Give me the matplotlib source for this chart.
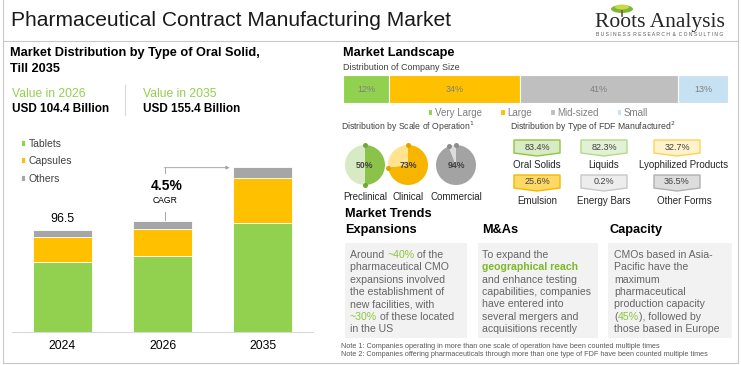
import numpy as np
import matplotlib
matplotlib.use('Agg')
import matplotlib.pyplot as plt
from matplotlib.patches import Polygon, Rectangle, Ellipse

plt.rcParams['font.family'] = ['Liberation Sans', 'DejaVu Sans']

W, H = 741, 365

# ---- data ----
years = ['2024', '2026', '2035']
tablets = [65.8, 71.2, 102.4]
capsules = [23.6, 25.7, 42.4]
others = [7.1, 7.5, 10.6]
value_2026 = 104.4
value_2035 = 155.4
cagr = 4.5

size_labels = ['Very Large', 'Large', 'Mid-sized', 'Small']
size_share = [12, 34, 41, 13]

scale_labels = ['Preclinical', 'Clinical', 'Commercial']
scale_share = [50, 73, 94]

fdf_labels = ['Oral Solids', 'Liquids', 'Lyophilized Products',
              'Emulsion', 'Energy Bars', 'Other Forms']
fdf_share = [83.4, 82.3, 32.7, 25.6, 0.2, 36.5]

GREEN = '#92D050'
YELLOW = '#FFC000'
GREY = '#A6A6A6'
TXT = '#666666'
LINE = '#C8C8C8'


def fx(x):
    return x / W


def fy(y):
    return 1 - y / H


fig = plt.figure(figsize=(W / 100, H / 100), dpi=100)
fig.patch.set_facecolor('white')

# full-figure overlay in pixel coordinates (y downwards)
bg = fig.add_axes([0, 0, 1, 1])
bg.set_xlim(0, W)
bg.set_ylim(H, 0)
bg.axis('off')

# frame lines
bg.plot([2.5, 2.5, 737.5, 737.5], [0, 362.5, 362.5, 0], color=LINE, lw=0.8)
bg.plot([2.5, 737.5], [40.5, 40.5], color=LINE, lw=0.8)

# title + logo
bg.text(11, 20, 'Pharmaceutical Contract Manufacturing Market', fontsize=15.1,
        va='center', color='#1a1a1a')
bg.add_patch(Ellipse((622, 9), 22, 8, fc='#7FB539', ec='none'))
bg.add_patch(Ellipse((622, 7), 14, 5, fc='#C9D94A', ec='none'))
bg.plot([622, 622], [11, 16], color='#6B5A3A', lw=1.2)
bg.text(660, 23, 'Roots Analysis', fontsize=15.5, family=['Liberation Serif'],
        ha='center', va='center', color='#262626')
bg.text(660, 34, '  '.join(' '.join(w) for w in 'BUSINESS RESEARCH & CONSULTING'.split()),
        fontsize=3.6, ha='center', va='center', color='#555555')

# ---- left panel ----
bg.text(10, 53, 'Market Distribution by Type of Oral Solid,', fontsize=9.2,
        fontweight='bold', va='center')
bg.text(10, 69, 'Till 2035', fontsize=9.2, fontweight='bold', va='center')
bg.text(12, 94, 'Value in 2026', fontsize=8.7, color=GREEN, va='center')
bg.text(12, 109, f'USD {value_2026} Billion', fontsize=8.5, fontweight='bold', va='center')
bg.plot([125, 125], [85, 115], color='#D9D9D9', lw=0.8)
bg.text(143, 94, 'Value in 2035', fontsize=8.7, color=GREEN, va='center')
bg.text(143, 109, f'USD {value_2035} Billion', fontsize=8.5, fontweight='bold', va='center')

axb = fig.add_axes([fx(12), fy(332), 301 / W, 191 / H])
x = np.arange(len(years))
bottom = np.zeros(len(years))
for vals, col, lab in [(tablets, GREEN, 'Tablets'), (capsules, YELLOW, 'Capsules'),
                       (others, GREY, 'Others')]:
    axb.bar(x, vals, 0.59, bottom=bottom, color=col, edgecolor='white', linewidth=0.6, label=lab)
    bottom += np.array(vals)
axb.set_xlim(-0.5, 2.5)
axb.set_ylim(0, 180)
axb.set_xticks(x, years, fontsize=8.7)
axb.set_yticks([])
axb.tick_params(length=0, pad=6)
for s in ['top', 'right', 'left']:
    axb.spines[s].set_visible(False)
axb.spines['bottom'].set_color('#D9D9D9')
axb.patch.set_visible(False)

axb.annotate(f'{bottom[0]:.1f}', (0, bottom[0]), xytext=(0, 7.5), textcoords='offset points',
             ha='center', va='center', fontsize=8.9)

t26, t35 = bottom[1], bottom[2]
conn = dict(color='#A6A6A6', lw=0.7, clip_on=False)
axb.plot([1.02, 1.02], [t26 + 1, t26 + 9], **conn)
axb.plot([1.02, 1.02], [t35 - 5.5, t35 - 0.5], **conn)
axb.annotate('', xy=(1.67, t35 - 0.5), xytext=(1.02, t35 - 0.5),
             arrowprops=dict(arrowstyle='-|>', color='#A6A6A6', lw=0.7, mutation_scale=5,
                             shrinkA=0, shrinkB=0), annotation_clip=False)
axb.text(1.045, 137.6, f'{cagr}%', ha='center', va='center', fontsize=10, fontweight='bold')
axb.text(1.025, 123.5, 'CAGR', ha='center', va='center', fontsize=6.2)

axb.legend(loc='upper left', bbox_to_anchor=(fx(20.5), fy(138.5)), bbox_transform=fig.transFigure,
           frameon=False, fontsize=7.5, handlelength=0.45, handleheight=0.45, handletextpad=0.35,
           labelspacing=0.72, borderpad=0, borderaxespad=0, labelcolor='#404040')

# ---- right panel: market landscape ----
bg.text(343, 53, 'Market Landscape', fontsize=9.2, fontweight='bold', va='center')
bg.text(343, 67, 'Distribution of Company Size', fontsize=6.5, va='center', color='#404040')

size_colors = [GREEN, YELLOW, '#BFBFBF', '#C6E2F2']
axs = fig.add_axes([fx(343), fy(103), 385 / W, 28 / H])
left = 0
for v, c, lab in zip(size_share, size_colors, size_labels):
    axs.barh(0, v, left=left, height=1, color=c, edgecolor='white', linewidth=0.8, label=lab)
    axs.text(left + v / 2, 0, f'{v}%', ha='center', va='center', fontsize=6.5, color='#7F7F7F')
    left += v
axs.set_xlim(0, 100)
axs.set_ylim(-0.5, 0.5)
axs.axis('off')
axs.legend(loc='upper center', bbox_to_anchor=(fx(538), fy(107.5)), bbox_transform=fig.transFigure,
           ncol=4, frameon=False, fontsize=7, handlelength=0.45, handleheight=0.45,
           handletextpad=0.25, columnspacing=1.9, borderpad=0, borderaxespad=0,
           labelcolor='#7F7F7F')

bg.text(341, 127, 'Distribution by Scale of Operation$^1$', fontsize=6.2, va='center', color='#404040')
bg.text(510, 127, 'Distribution by Type of FDF Manufactured$^2$', fontsize=6.2, va='center',
        color='#404040')

# scale of operation pies
pie_cx = [365, 408, 456]
pie_cy = 165
pie_r = 20
pie_cols = [('#8BC34A', '#D7EAC4', '#6FA83A'), ('#F7B500', '#FFE38F', '#E0A200'),
            ('#A3A3A3', '#DCDCDC', '#8C8C8C')]
for i, (lab, v) in enumerate(zip(scale_labels, scale_share)):
    s = pie_r * 2.2
    axp = fig.add_axes([fx(pie_cx[i] - s / 2), fy(pie_cy + s / 2), s / W, s / H])
    dark, light, dot = pie_cols[i]
    axp.pie([v, 100 - v], colors=[dark, light], startangle=90, counterclock=False,
            wedgeprops=dict(linewidth=0))
    axp.set_xlim(-1.1, 1.1)
    axp.set_ylim(-1.1, 1.1)
    a = np.deg2rad(90 - 3.6 * v)
    axp.plot([0, np.cos(a)], [1, np.sin(a)], 'o', ms=3.6, color=dot, mec='none', clip_on=False)
    axp.text(0, 0, f'{v}%', ha='center', va='center', fontsize=6.3, fontweight='bold',
             color='#404040')
    bg.text(pie_cx[i], 197, lab, ha='center', va='center', fontsize=7, color='#262626')

# FDF badges
fdf_cx = [537, 604, 677, 537, 604, 677]
fdf_lx = [537, 604, 684, 537, 604, 684]
fdf_top = [140, 140, 140, 175, 175, 175]
fdf_fc = ['#D8EBC4', '#E2F0D5', '#FFF2CC', '#FFD966', '#EDEDED', '#DDDDDD']
fdf_ec = ['#8DC63F', '#B5D98A', '#FFD34D', '#F2B800', '#C8C8C8', '#B0B0B0']
for i in range(len(fdf_labels)):
    cx, yt = fdf_cx[i], fdf_top[i]
    w, h = 46, 13
    pts = [(cx - w / 2, yt), (cx + w / 2, yt), (cx + w / 2, yt + h), (cx, yt + h + 3),
           (cx - w / 2, yt + h)]
    bg.add_patch(Polygon(pts, closed=True, fc=fdf_fc[i], ec=fdf_ec[i], lw=1))
    bg.text(cx, yt + 7, f'{fdf_share[i]}%', ha='center', va='center', fontsize=6.5, color='#404040')
    bg.text(fdf_lx[i], yt + 25.5, fdf_labels[i], ha='center', va='center', fontsize=7,
            color='#262626')

# ---- market trends ----
bg.text(345, 214, 'Market Trends', fontsize=9.2, fontweight='bold', va='center')
heads = [(345, 'Expansions'), (482, 'M&As'), (610, 'Capacity')]
for hx, ht in heads:
    bg.text(hx, 230, ht, fontsize=9.2, fontweight='bold', va='center')

boxes = [(345, 467), (478, 598), (608, 732)]
for x0, x1 in boxes:
    bg.add_patch(Rectangle((x0, 243), x1 - x0, 95, fc='#F2F2F2', ec='none'))

renderer = fig.canvas.get_renderer()


def text_width(s, size):
    t = bg.text(0, 0, s, fontsize=size)
    w = t.get_window_extent(renderer).width
    t.remove()
    return w


def rich_line(x, y, parts, size=7.6):
    bar_w = text_width('|', size)
    prefix = ''
    for txt, col, wt in parts:
        off = text_width(prefix + '|', size) - bar_w if prefix else 0
        bg.text(x + off, y, txt, color=col, fontweight=wt, fontsize=size, va='center')
        prefix += txt


HL = '#8CC63F'
n = 'normal'
col_texts = [
    (350, [[('Around ', TXT, n), ('~40%', HL, n), (' of the', TXT, n)],
           [('pharmaceutical CMO', TXT, n)],
           [('expansions involved', TXT, n)],
           [('the establishment of', TXT, n)],
           [('new facilities, with', TXT, n)],
           [('~30%', HL, n), (' of these located', TXT, n)],
           [('in the US', TXT, n)]]),
    (482, [[('To expand the', TXT, n)],
           [('geographical reach', '#7DB928', 'bold')],
           [('and enhance testing', TXT, n)],
           [('capabilities, companies', TXT, n)],
           [('have entered into', TXT, n)],
           [('several mergers and', TXT, n)],
           [('acquisitions recently', TXT, n)]]),
    (614, [[('CMOs based in Asia-', TXT, n)],
           [('Pacific have the', TXT, n)],
           [('maximum', TXT, n)],
           [('pharmaceutical', TXT, n)],
           [('production capacity', TXT, n)],
           [('(', TXT, n), ('45%', HL, n), ('), followed by', TXT, n)],
           [('those based in Europe', TXT, n)]]),
]
for tx, lines in col_texts:
    for k, parts in enumerate(lines):
        rich_line(tx, 255 + 12.3 * k, parts)

bg.text(341, 347, 'Note 1: Companies operating in more than one scale of operation have been counted multiple times',
        fontsize=5.2, va='center', color='#595959')
bg.text(341, 355, 'Note 2: Companies offering pharmaceuticals through more than one type of FDF have been counted multiple times',
        fontsize=5.2, va='center', color='#595959')

fig.savefig('out.png', dpi=100)
